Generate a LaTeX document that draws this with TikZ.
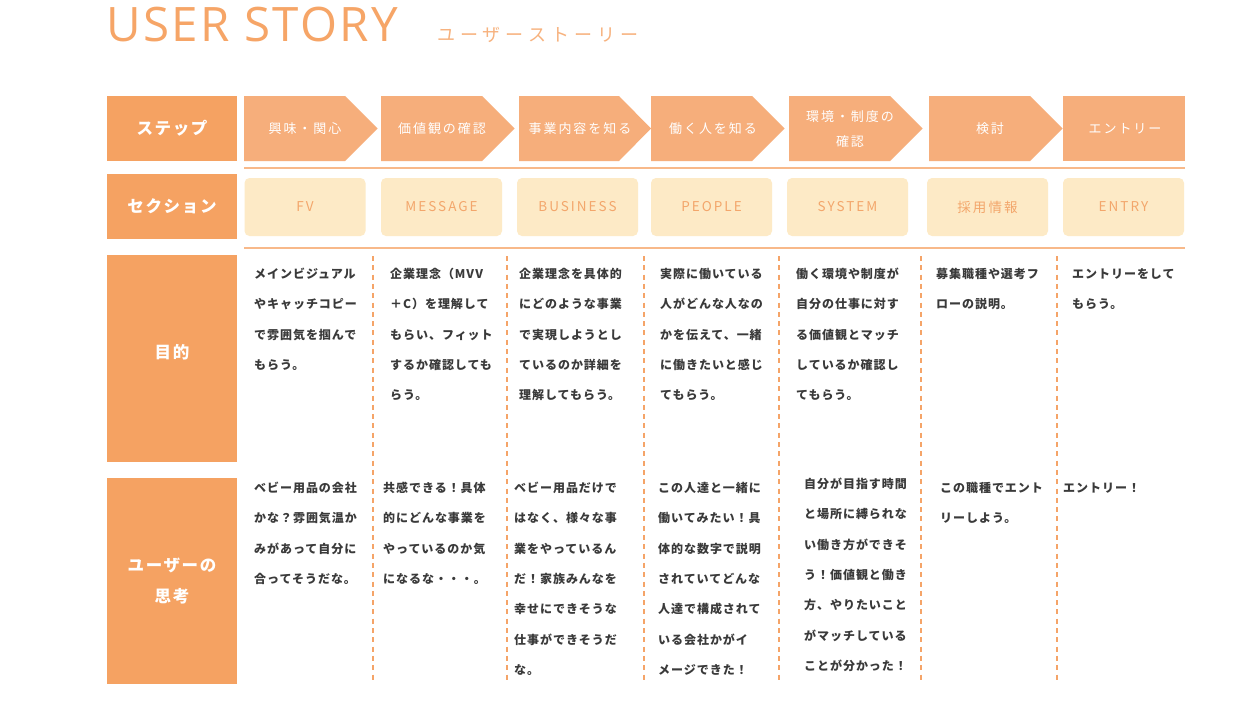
\documentclass[tikz,border=0pt]{standalone}
\usepackage{fontspec}
\setmainfont{Noto Sans CJK JP}
\newfontfamily\titlefont{Open Sans}[LetterSpace=5]
\newfontfamily\subfont{Noto Sans CJK JP}[LetterSpace=28]
\newfontfamily\labelfont{Noto Sans CJK JP}[LetterSpace=10]
\newfontfamily\stepfont{Noto Sans CJK JP}[LetterSpace=15]
\newfontfamily\bodyfont{Noto Sans CJK JP}[LetterSpace=8]

\definecolor{labelorange}{HTML}{F5A262}
\definecolor{steporange}{HTML}{F6AE7B}
\definecolor{sectioncream}{HTML}{FDEAC6}
\definecolor{sectiontext}{HTML}{F3A66B}
\definecolor{ruleorange}{HTML}{F8B98A}
\definecolor{dashorange}{HTML}{F5A468}
\definecolor{bodygray}{HTML}{3A3A3A}
\definecolor{titleorange}{HTML}{F6A567}

\tikzset{
  labelbox/.style={fill=labelorange, minimum width=130pt, inner sep=0, text=white,
    align=center, font=\labelfont\bfseries\fontsize{16.5}{31}\selectfont},
  stepfill/.style={fill=steporange},
  steptext/.style={text=white, inner sep=0, align=center,
    font=\stepfont\fontsize{13}{25}\selectfont},
  sectionbox/.style={fill=sectioncream, rounded corners=5pt, minimum width=121pt,
    minimum height=58pt, inner sep=0, text=sectiontext,
    font=\stepfont\fontsize{13.5}{16}\selectfont},
  ruleline/.style={draw=ruleorange, line width=2pt},
  dashline/.style={draw=dashorange, line width=1.5pt, dash pattern=on 5pt off 4.3pt},
  % anchored at the baseline of the last line
  bodytext/.style={anchor=base west, align=left, inner sep=0, text=bodygray,
    font=\bodyfont\bfseries\fontsize{12}{30.3}\selectfont}
}

\begin{document}
\begin{tikzpicture}[x=1pt, y=-1pt]
                            % Page and title:
                            \path[fill=white] (0,0) rectangle (1250,712);
                            \useasboundingbox (0,0) rectangle (1250,712);
                            \node[anchor=base west, inner sep=0, text=titleorange, font=\titlefont\fontsize{47.5}{50}\selectfont] (title) at (106,41) {USER STORY};
                            \node[anchor=base west, inner sep=0, text=titleorange!85, font=\subfont\fontsize{18}{20}\selectfont] (subtitle) at (437,41.5) {ユーザーストーリー};
                            % Row labels:
                            \node[labelbox, minimum height=65pt] (lblstep) at (172,128.5) {ステップ};
                            \node[labelbox, minimum height=65pt] (lblsection) at (172,206.5) {セクション};
                            \node[labelbox, minimum height=207pt] (lblgoal) at (172,358.5) {};
                            \node[labelbox, fill=none] (lblgoaltext) at (172,352) {目的};
                            \node[labelbox, minimum height=206pt] (lblthink) at (172,581) {ユーザーの\\思考};
                            % Steps:
                            \fill[stepfill] (244,96) -- ++(101,0) -- ++(32.5,32.5) -- ++(-32.5,32.5) -- ++(-101,0) -- cycle;
                            \fill[stepfill] (381,96) -- ++(101,0) -- ++(32.5,32.5) -- ++(-32.5,32.5) -- ++(-101,0) -- cycle;
                            \fill[stepfill] (519,96) -- ++(100,0) -- ++(32,32.5) -- ++(-32,32.5) -- ++(-100,0) -- cycle;
                            \fill[stepfill] (651,96) -- ++(101,0) -- ++(32.5,32.5) -- ++(-32.5,32.5) -- ++(-101,0) -- cycle;
                            \fill[stepfill] (789,96) -- ++(101,0) -- ++(32.5,32.5) -- ++(-32.5,32.5) -- ++(-101,0) -- cycle;
                            \fill[stepfill] (929,96) -- ++(101,0) -- ++(32.5,32.5) -- ++(-32.5,32.5) -- ++(-101,0) -- cycle;
                            \fill[stepfill] (1063,96) rectangle (1185,161);
                            \node[steptext] (step1) at (305,128.5) {興味・関心};
                            \node[steptext] (step2) at (442,128.5) {価値観の確認};
                            \node[steptext] (step3) at (580,128.5) {事業内容を知る};
                            \node[steptext] (step4) at (713,128.5) {働く人を知る};
                            \node[steptext] (step5) at (850,129.5) {環境・制度の\\確認};
                            \node[steptext] (step6) at (990,128.5) {検討};
                            \node[steptext] (step7) at (1125,128.5) {エントリー};
                            \draw[ruleline] (244,167.5) -- (1185,167.5);
                            % Sections:
                            \node[sectionbox] (sec1) at (305,207) {FV};
                            \node[sectionbox] (sec2) at (441.5,207) {MESSAGE};
                            \node[sectionbox] (sec3) at (577.5,207) {BUSINESS};
                            \node[sectionbox] (sec4) at (711.5,207) {PEOPLE};
                            \node[sectionbox] (sec5) at (847.5,207) {SYSTEM};
                            \node[sectionbox] (sec6) at (987.5,207) {採用情報};
                            \node[sectionbox] (sec7) at (1123.5,207) {ENTRY};
                            \draw[ruleline] (244,247.5) -- (1185,247.5);
                            % Column separators:
                            \draw[dashline] (373,256) -- (373,681);
                            \draw[dashline] (507,256) -- (507,681);
                            \draw[dashline] (644,256) -- (644,681);
                            \draw[dashline] (779,256) -- (779,681);
                            \draw[dashline] (921,256) -- (921,681);
                            \draw[dashline] (1057,256) -- (1057,681);
                            % Goals:
                            \node[bodytext] (goal1) at (254,369.5) {メインビジュアル\\やキャッチコピー\\で雰囲気を掴んで\\もらう。};
                            \node[bodytext] (goal2) at (390,399.8) {企業理念（MVV\\＋C）を理解して\\もらい、フィット\\するか確認しても\\らう。};
                            \node[bodytext] (goal3) at (519,399.8) {企業理念を具体的\\にどのような事業\\で実現しようとし\\ているのか詳細を\\理解してもらう。};
                            \node[bodytext] (goal4) at (660,399.8) {実際に働いている\\人がどんな人なの\\かを伝えて、一緒\\に働きたいと感じ\\てもらう。};
                            \node[bodytext] (goal5) at (796,399.8) {働く環境や制度が\\自分の仕事に対す\\る価値観とマッチ\\しているか確認し\\てもらう。};
                            \node[bodytext] (goal6) at (936,308.9) {募集職種や選考フ\\ローの説明。};
                            \node[bodytext] (goal7) at (1072,308.9) {エントリーをして\\もらう。};
                            % User thoughts:
                            \node[bodytext] (think1) at (254,583.5) {ベビー用品の会社\\かな？雰囲気温か\\みがあって自分に\\合ってそうだな。};
                            \node[bodytext] (think2) at (383,583.5) {共感できる！具体\\的にどんな事業を\\やっているのか気\\になるな・・・。};
                            \node[bodytext] (think3) at (514,674.4) {ベビー用品だけで\\はなく、様々な事\\業をやっているん\\だ！家族みんなを\\幸せにできそうな\\仕事ができそうだ\\な。};
                            \node[bodytext] (think4) at (658,674.4) {この人達と一緒に\\働いてみたい！具\\体的な数字で説明\\されていてどんな\\人達で構成されて\\いる会社かがイ\\メージできた！};
                            \node[bodytext] (think5) at (804,670.4) {自分が目指す時間\\と場所に縛られな\\い働き方ができそ\\う！価値観と働き\\方、やりたいこと\\がマッチしている\\ことが分かった！};
                            \node[bodytext] (think6) at (940,522.9) {この職種でエント\\リーしよう。};
                            \node[bodytext] (think7) at (1063,492.6) {エントリー！};
                        \end{tikzpicture}
\end{document}
